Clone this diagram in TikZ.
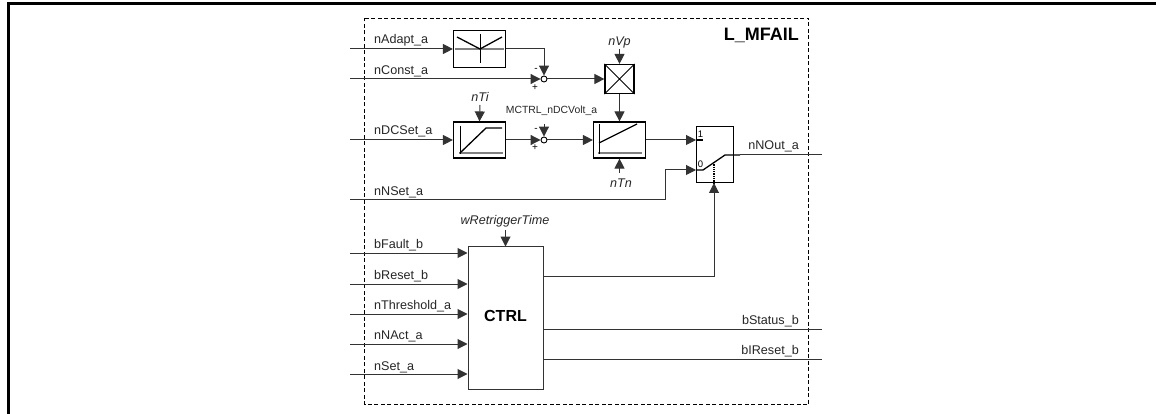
\documentclass[tikz,border=0pt]{standalone}
\usepackage{fontspec}
\setmainfont{Liberation Sans}
\usetikzlibrary{arrows.meta}
\tikzset{
	blockbox/.style={draw,line width=1.2pt,inner sep=0pt},
	sumnode/.style={draw,circle,fill=white,line width=0.9pt,minimum size=6pt,inner sep=0pt},
	signal/.style={line width=1pt,draw=black!80},
	flow/.style={signal,-{Triangle[length=10pt,width=10pt]}},
	inlabel/.style={font=\fontsize{12.6}{14}\selectfont,text=black!85,anchor=base west,inner sep=0pt},
	paramlabel/.style={inlabel,font=\fontsize{12.6}{14}\selectfont\itshape,anchor=base},
	signlabel/.style={font=\fontsize{10}{10}\selectfont,inner sep=0pt}
}
\begin{document}
\begin{tikzpicture}[x=1pt,y=-1pt]
	\useasboundingbox (0,0) rectangle (1156,414);
	\draw[line width=2.6pt] (8.2,414)--(8.2,3.3)--(1156,3.3);	%outer frame

	%FRAME
	\draw[dash pattern=on 4pt off 2.5pt,line width=0.9pt] (364.5,18)--(808.5,18)--(808.5,404.5)--(364.5,404.5)--cycle;
	\node[font=\fontsize{18}{19}\selectfont\bfseries,anchor=base east,inner sep=0pt] (title) at (799,41) {L\_MFAIL};

	%BLOCKS
	\node[blockbox,minimum width=52pt,minimum height=37pt] (adapt) at (479.5,49) {};
	\node[blockbox,minimum width=29pt,minimum height=29pt] (mult) at (619.5,79) {};
	\node[blockbox,minimum width=52pt,minimum height=36pt] (ramp) at (479.5,140) {};
	\node[blockbox,minimum width=52pt,minimum height=36pt] (pi) at (619.5,140) {};
	\node[blockbox,line width=1pt,minimum width=37pt,minimum height=56pt] (switch) at (714.5,155) {};
	\node[blockbox,line width=1pt,draw=black!80,minimum width=75pt,minimum height=143pt] (ctrl) at (505.5,318) {};
	\node[font=\fontsize{16}{17}\selectfont\bfseries] (ctrltext) at (505.5,316) {CTRL};
	\node[sumnode] (sumA) at (544,79) {};
	\node[sumnode] (sumB) at (544,140) {};

	%GLYPHS
	\draw[line width=1.2pt,draw=black!50] (455,49)--(504,49);
	\draw[line width=0.9pt] (480,34)--(480,63);
	\draw[line width=1.3pt] (457,37)--(480,49)--(502,37);
	\draw[line width=0.9pt] (mult.north west)--(mult.south east) (mult.north east)--(mult.south west);
	\draw[line width=1.2pt,draw=black!50] (459,153)--(503,153);
	\draw[line width=0.9pt] (460,126)--(460,154);
	\draw[line width=1.3pt] (460,153)--(486,128)--(502,128);
	\draw[line width=1.2pt,draw=black!50] (598,153)--(642,153);
	\draw[line width=0.9pt] (599,124)--(599,154);
	\draw[line width=1.3pt] (599,143)--(637,124);

	%SWITCH
	\draw[line width=1.1pt] (696,140)--(703,140);
	\draw[line width=1.3pt] (696,170)--(703,170)--(725,155)--(740,155);
	\draw[densely dotted,line width=1.3pt] (714,162)--(714,183);
	\node[signlabel,font=\fontsize{9.5}{10}\selectfont] (sel1) at (700.5,134) {1};
	\node[signlabel,font=\fontsize{9.5}{10}\selectfont] (sel0) at (700.5,164) {0};

	%INPUTS
	\coordinate (inAdapt) at (350,49);
	\coordinate (inConst) at (350,79);
	\coordinate (inDCSet) at (350,140);
	\coordinate (inNSet) at (350,200);
	\draw[flow] (inAdapt)--(adapt.west);
	\draw[flow] (inConst)--(sumA.west);
	\draw[flow] (inDCSet)--(ramp.west);
	\draw[flow] (inNSet)--(665,200)--(665,170)--(696,170);
	\draw[flow] (adapt.east)-|(sumA.north);
	\draw[flow] (sumA.east)--(mult.west);
	\draw[flow] (ramp.east)--(sumB.west);
	\draw[flow] (sumB.east)--(pi.west);
	\draw[flow] (mult.south)--(pi.north);
	\draw[flow] (pi.east)--(696,140);
	\foreach \y/\n in {253/bFault,284/bReset,314/nThreshold,344/nNAct,374/nSet}{
		\coordinate (in\n) at (350,\y);
		\draw[flow] (in\n)--(ctrl.west|-in\n);
	}

	%PARAMETERS
	\node[paramlabel] (nVp) at (619.5,46) {nVp};
	\node[paramlabel] (nTi) at (480,102) {nTi};
	\node[paramlabel] (nTn) at (621,188) {nTn};
	\node[paramlabel,font=\fontsize{12.6}{14}\selectfont\itshape] (wRet) at (505,225) {wRetriggerTime};
	\node[font=\fontsize{10.4}{11}\selectfont,text=black!85,inner sep=0pt] (mctrl) at (551.5,110.5) {MCTRL\_nDCVolt\_a};
	\draw[flow] (619.5,49)--(mult.north);
	\draw[flow] (480,105)--(ramp.north);
	\draw[flow] (619.5,173)--(pi.south);
	\draw[flow] (505.5,230)--(505.5,246.5);
	\draw[flow] (544,124)--(sumB.north);

	%SIGNS
	\node[signlabel] (minusA) at (536,70) {-};
	\node[signlabel] (plusA) at (535,88) {+};
	\node[signlabel] (minusB) at (536,130) {-};
	\node[signlabel] (plusB) at (535,148) {+};

	%OUTPUTS
	\coordinate (outN) at (822,155);
	\coordinate (outS) at (822,329);
	\coordinate (outR) at (822,359);
	\draw[signal] (740,155)--(outN);
	\coordinate (ctrlOut) at (543,276);
	\draw[flow] (ctrlOut)-|(714,183);
	\draw[signal] (ctrl.east|-outS)--(outS);
	\draw[signal] (ctrl.east|-outR)--(outR);

	%LABELS
	\foreach \y/\t in {44/nAdapt\_a,75/nConst\_a,135/nDCSet\_a,196/nNSet\_a,248/bFault\_b,279/bReset\_b,309/nThreshold\_a,339/nNAct\_a,370/nSet\_a}
	\node[inlabel] at (374,\y) {\t};
	\node[inlabel,anchor=base east] (nNOut) at (799,150) {nNOut\_a};
	\node[inlabel,anchor=base east] (bStatus) at (799,324) {bStatus\_b};
	\node[inlabel,anchor=base east] (bIReset) at (799,354) {bIReset\_b};
\end{tikzpicture}
\end{document}
